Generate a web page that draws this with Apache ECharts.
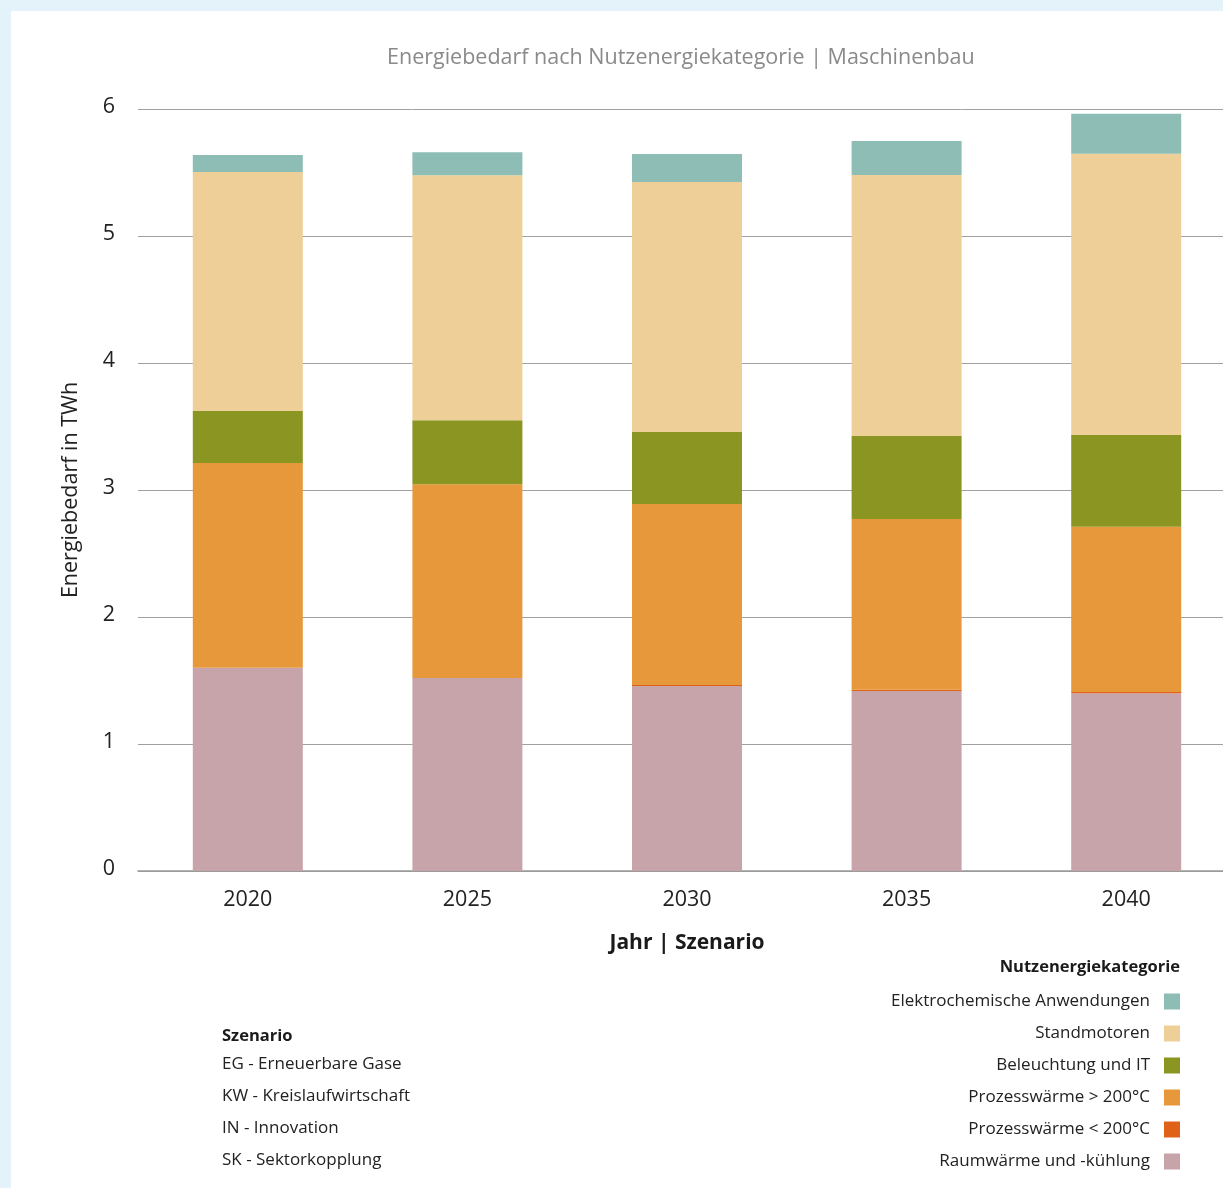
<!DOCTYPE html>
<html lang="de">
<head>
    <meta charset="UTF-8">
    <title>Energiebedarf Maschinenbau</title>
    <script src="https://cdn.jsdelivr.net/npm/echarts@6/dist/echarts.min.js"></script>
    <style>
        body {
            margin: 0;
            background: #e4f2fa;
            width: 1223px;
            height: 1188px;
            overflow: hidden;
        }

        /* etwas breiter als das Fenster: die Grafik läuft rechts aus dem Bild */
        #chart {
            position: absolute;
            left: 11px;
            top: 11px;
            width: 1225px;
            height: 1177px;
            background: #fff;
        }
    </style>
</head>
<body>
    <div id="chart"></div>
    <script>
        // Jahre
        const years = ['2020', '2025', '2030', '2035', '2040']

        // TWh je Kategorie (gestapelt, von unten nach oben)
        const raumwaerme = [1.60, 1.52, 1.457, 1.417, 1.40]
        const prozessUnter200 = [0, 0, 0.008, 0.01, 0.01]
        const prozessUeber200 = [1.613, 1.525, 1.425, 1.345, 1.30]
        const beleuchtung = [0.409, 0.504, 0.567, 0.653, 0.724]
        const standmotoren = [1.882, 1.929, 1.968, 2.055, 2.213]
        const elektrochemie = [0.134, 0.181, 0.221, 0.268, 0.315]

        const yTicks = [0, 1, 2, 3, 4, 5, 6]

        const szenarien = [
            'EG - Erneuerbare Gase',
            'KW - Kreislaufwirtschaft',
            'IN - Innovation',
            'SK - Sektorkopplung'
        ]

        const font = 'Open Sans'

        const series = [
            { name: 'Raumwärme und -kühlung', data: raumwaerme, color: '#c7a3aa' },
            { name: 'Prozesswärme < 200°C', data: prozessUnter200, color: '#e06219' },
            { name: 'Prozesswärme > 200°C', data: prozessUeber200, color: '#e7983b' },
            { name: 'Beleuchtung und IT', data: beleuchtung, color: '#8b9521' },
            { name: 'Standmotoren', data: standmotoren, color: '#eecf97' },
            { name: 'Elektrochemische Anwendungen', data: elektrochemie, color: '#8dbdb4' }
        ].map(s => ({
            name: s.name,
            type: 'bar',
            stack: 'total',
            barWidth: 110,
            data: s.data,
            itemStyle: { color: s.color },
            emphasis: { disabled: true }
        }))

        const myChart = echarts.init(document.getElementById('chart'))

        // Szenario-Block links unten
        const szenarioTexts = szenarien.map((t, i) => ({
            type: 'text',
            left: 211,
            top: 1045 + i * 32,
            style: { text: t, fill: '#222', font: '17px ' + font }
        }))

        const option = {
            animation: false,
            title: {
                text: 'Energiebedarf nach Nutzenergiekategorie | Maschinenbau',
                left: 371,
                top: 31,
                textStyle: { color: '#8a8a8a', fontSize: 21.5, fontWeight: 'normal', fontFamily: font }
            },
            grid: {
                left: 127,
                top: 98,
                right: 0,
                bottom: 317
            },
            legend: {
                orient: 'vertical',
                right: 51,
                top: 977,
                align: 'right',
                itemWidth: 16,
                itemHeight: 16,
                itemGap: 15,
                icon: 'rect',
                selectedMode: false,
                data: series.map(s => s.name).reverse(),
                textStyle: { color: '#222', fontSize: 17, fontFamily: font, padding: [0, 9, 0, 0] }
            },
            xAxis: {
                type: 'category',
                data: years,
                name: 'Jahr | Szenario',
                nameLocation: 'middle',
                nameGap: 62,
                nameTextStyle: { color: '#1a1a1a', fontSize: 21, fontWeight: 'bold', fontFamily: font },
                axisTick: { show: false },
                axisLine: { lineStyle: { color: '#999', width: 1.5 } },
                axisLabel: { color: '#222', fontSize: 21.5, margin: 18, fontFamily: font }
            },
            yAxis: {
                type: 'value',
                min: yTicks[0],
                max: yTicks[yTicks.length - 1],
                interval: 1,
                name: 'Energiebedarf in TWh',
                nameLocation: 'middle',
                nameGap: 56,
                nameTextStyle: { color: '#222', fontSize: 21.5, fontFamily: font },
                splitLine: { lineStyle: { color: '#a0a0a0', width: 1 } },
                axisLabel: {
                    color: '#222', fontSize: 21.5, margin: 23, fontFamily: font,
                    verticalAlign: 'bottom', lineHeight: 4
                }
            },
            graphic: [
                {
                    type: 'text',
                    right: 56,
                    top: 948,
                    style: { text: 'Nutzenergiekategorie', fill: '#1a1a1a', font: 'bold 16.5px ' + font }
                },
                {
                    type: 'text',
                    left: 211,
                    top: 1017,
                    style: { text: 'Szenario', fill: '#1a1a1a', font: 'bold 16.5px ' + font }
                },
                ...szenarioTexts
            ],
            series: series
        }

        myChart.setOption(option)
    </script>
</body>
</html>
